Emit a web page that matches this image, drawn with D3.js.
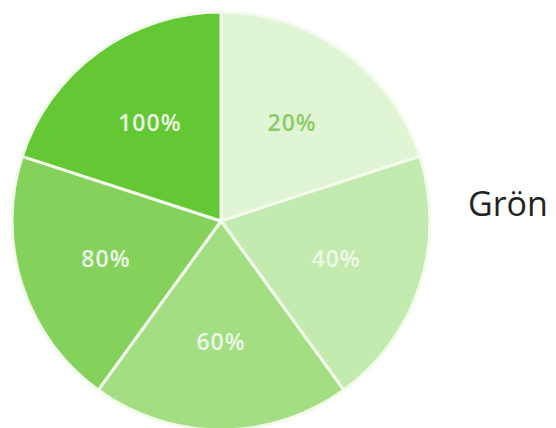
<!DOCTYPE html>
<html lang="sv">
<head>
    <meta charset="UTF-8">
    <title>Grön</title>
    <script src="https://cdn.jsdelivr.net/npm/d3@7"></script>
    <style>
        body { margin: 0; background: #fff; }
    </style>
</head>
<body>
<script type="text/javascript">
    var width = 556;
    var height = 428;

    // one slice per shade, equal size
    var labels = ['20%', '40%', '60%', '80%', '100%'];
    var values = [1, 1, 1, 1, 1];
    var colors = ['#dff5d4', '#c3ebaf', '#a3de83', '#84d25c', '#63c833'];
    var textColors = ['#8ccc68', '#eef9e8', '#eef9e8', '#eef9e8', '#eef9e8'];
    var seriesName = 'Grön';

    var svg = d3.select('body').append('svg')
            .attr('width', width)
            .attr('height', height);

    var cx = 221, cy = 221, radius = 209;

    var pie = d3.pie().sort(null).value(function (d) { return d; });
    var arcs = pie(values);

    var arcPath = d3.arc()
            .innerRadius(0)
            .outerRadius(radius);
    var labelArc = d3.arc()
            .innerRadius(121)
            .outerRadius(121);

    var g = svg.append('g')
            .attr('transform', 'translate(' + cx + ',' + cy + ')');

    g.selectAll('path')
            .data(arcs)
            .enter()
            .append('path')
            .attr('d', arcPath)
            .attr('fill', function (d, i) { return colors[i]; })
            .attr('stroke', '#f2fbec')
            .attr('stroke-width', 3)
            .attr('stroke-linejoin', 'round');

    g.selectAll('text')
            .data(arcs)
            .enter()
            .append('text')
            .attr('transform', function (d) {
                return 'translate(' + labelArc.centroid(d) + ')';
            })
            .attr('text-anchor', 'middle')
            .attr('dy', '0.36em')
            .attr('fill', function (d, i) { return textColors[i]; })
            .attr('font-family', 'Open Sans, sans-serif')
            .attr('font-weight', 600)
            .attr('font-size', '23px')
            .attr('letter-spacing', '1px')
            .text(function (d, i) { return labels[i]; });

    svg.append('text')
            .attr('x', 468)
            .attr('y', 216)
            .attr('fill', '#222')
            .attr('font-family', 'Open Sans, sans-serif')
            .attr('font-size', '34px')
            .text(seriesName);
</script>
</body>
</html>
